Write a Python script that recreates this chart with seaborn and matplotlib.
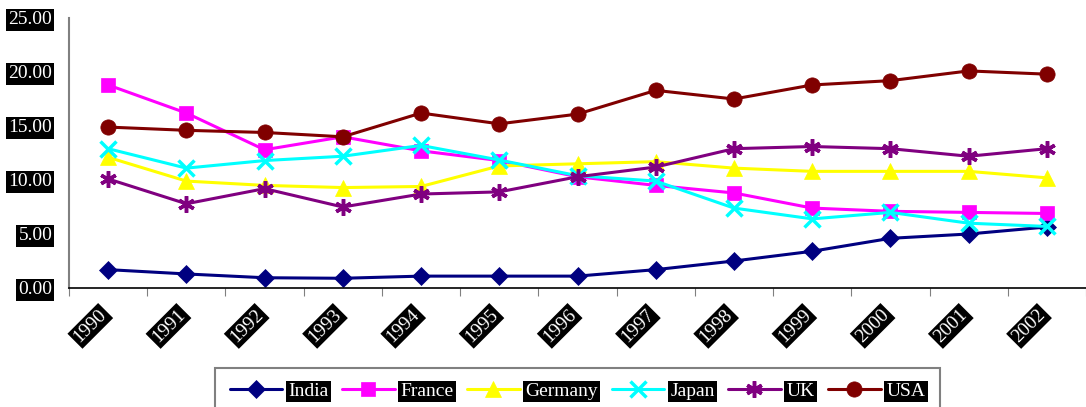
import matplotlib
matplotlib.use("Agg")
import matplotlib.pyplot as plt
import matplotlib.transforms as mtransforms
import numpy as np
import pandas as pd
import seaborn as sns

years = ["1990", "1991", "1992", "1993", "1994", "1995", "1996",
         "1997", "1998", "1999", "2000", "2001", "2002"]
india = [1.7, 1.3, 0.95, 0.9, 1.1, 1.1, 1.1, 1.7, 2.5, 3.4, 4.6, 5.0, 5.65]
france = [18.8, 16.2, 12.8, 14.0, 12.7, 11.8, 10.3, 9.5, 8.8, 7.4, 7.1, 7.0, 6.9]
germany = [12.1, 9.9, 9.5, 9.3, 9.4, 11.3, 11.5, 11.7, 11.1, 10.8, 10.8, 10.8, 10.2]
japan = [12.9, 11.1, 11.8, 12.2, 13.2, 11.85, 10.4, 9.9, 7.4, 6.4, 7.0, 6.0, 5.7]
uk = [10.1, 7.8, 9.2, 7.5, 8.7, 8.9, 10.3, 11.2, 12.9, 13.1, 12.9, 12.2, 12.9]
usa = [14.9, 14.6, 14.4, 14.0, 16.2, 15.2, 16.1, 18.3, 17.5, 18.8, 19.2, 20.1, 19.8]

countries = ["India", "France", "Germany", "Japan", "UK", "USA"]
colors = ["#000080", "#FF00FF", "#FFFF00", "#00FFFF", "#800080", "#800000"]
markers = ["D", "s", "^", "x", (6, 2, 0), "o"]
sizes = [9, 10, 11, 11, 12, 11]

series = [india, france, germany, japan, uk, usa]
df = pd.DataFrame({
    "idx": np.tile(np.arange(len(years)), len(countries)),
    "country": np.repeat(countries, len(years)),
    "value": np.concatenate(series),
})

sns.set_style("white")
plt.rcParams["font.family"] = ["Liberation Serif", "DejaVu Serif"]

fig = plt.figure(figsize=(10.86, 4.07), dpi=100)
ax = fig.add_axes([69 / 1086, 1 - 288 / 407, 1 - 69 / 1086, 270 / 407])

# one call per series: seaborn won't mix filled and line-art markers
for name, c, m, ms in zip(countries, colors, markers, sizes):
    line_art = m in ("x", (6, 2, 0))
    sns.lineplot(data=df[df["country"] == name], x="idx", y="value",
                 color=c, marker=m, markersize=ms, markeredgecolor=c,
                 markerfacecolor=c, markeredgewidth=2.5 if line_art else 0.5,
                 linewidth=2.2, ax=ax, label=name, legend=False)

ax.set_xlim(-0.5, len(years) - 0.5)
ax.set_ylim(0, 25)
ax.set_xlabel("")
ax.set_ylabel("")

# category boundaries as ticks, labels at centres
ax.set_xticks(np.arange(len(years) + 1) - 0.5)
ax.set_xticklabels([])
ax.set_xticks(np.arange(len(years)), minor=True)
ax.set_xticklabels(years, minor=True, rotation=45, ha="right", va="top",
                   rotation_mode="anchor", color="white", fontsize=14)
ax.tick_params(axis="x", which="major", direction="out", length=6,
               color="#808080", bottom=True)
ax.tick_params(axis="x", which="minor", length=0, pad=13)

shift = mtransforms.ScaledTranslation(-10 / 100, 0, fig.dpi_scale_trans)
for lab in ax.get_xticklabels(minor=True):
    lab.set_transform(lab.get_transform() + shift)

ax.set_yticks(np.arange(0, 26, 5))
ax.set_yticklabels([f"{v:.2f}" for v in np.arange(0, 26, 5)],
                   color="white", fontsize=14)
ax.tick_params(axis="y", length=0, pad=12)

for lab in ax.get_yticklabels() + ax.get_xticklabels(minor=True):
    lab.set_bbox(dict(facecolor="black", edgecolor="none", pad=1.5))

for side in ["top", "right"]:
    ax.spines[side].set_visible(False)
ax.spines["left"].set_color("#808080")
ax.spines["left"].set_linewidth(1.5)
ax.spines["bottom"].set_color("black")
ax.spines["bottom"].set_linewidth(1.2)

handles = ax.lines[:len(countries)]
leg = fig.legend(handles, countries, loc="upper center",
                 bbox_to_anchor=(0.532, 1 - 368 / 407), ncol=6,
                 fontsize=14, frameon=True, fancybox=False,
                 handlelength=2.7, columnspacing=0.7, handletextpad=0.3,
                 borderpad=0.75, borderaxespad=0)
leg.get_frame().set_edgecolor("#606060")
leg.get_frame().set_linewidth(1.5)
for t in leg.get_texts():
    t.set_color("white")
    t.set_bbox(dict(facecolor="black", edgecolor="none", pad=1.5))

fig.savefig("out.png", dpi=100)
